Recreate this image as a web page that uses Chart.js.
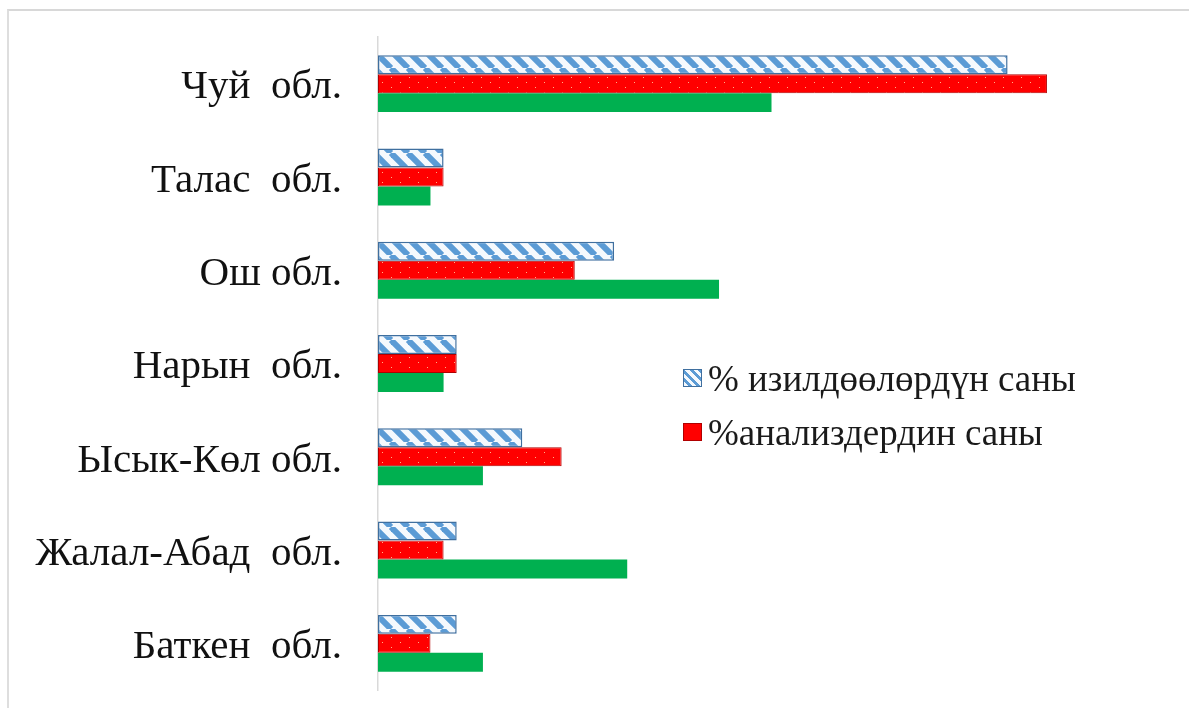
<!DOCTYPE html>
<html lang="ky">
  <head>
    <meta charset="UTF-8" />
    <title>Облустар боюнча</title>
    <script src="https://cdn.jsdelivr.net/npm/chart.js"></script>
    <style>
      * {
        margin: 0;
        padding: 0;
        box-sizing: border-box;
      }

      body {
        width: 1189px;
        height: 708px;
        overflow: hidden;
        background: #ffffff;
        position: relative;
      }

      /* light frame of the original picture, cut off at right and bottom */
      .frame {
        position: absolute;
        left: 7px;
        top: 9px;
        width: 1300px;
        height: 800px;
        border-left: 2px solid #dedede;
        border-top: 2px solid #d8d8d8;
      }

      .chart-box {
        position: absolute;
        left: 0;
        top: 0;
        width: 1189px;
        height: 708px;
      }

      .legend {
        position: absolute;
        left: 683px;
        top: 351px;
        font-family: "Liberation Serif", "Times New Roman", serif;
        font-size: 37px;
        color: #1a1a1a;
      }

      .legend-row {
        display: flex;
        align-items: center;
        height: 54px;
        white-space: pre;
      }

      .swatch {
        width: 19px;
        height: 18px;
        margin-right: 6px;
        flex: none;
      }
    </style>
  </head>
  <body>
    <div class="frame"></div>
    <div class="chart-box">
      <canvas id="regionChart"></canvas>
    </div>
    <div class="legend" id="legend"></div>

    <script>
      // categories, top to bottom
      var regions = [
        "Чуй  обл.",
        "Талас  обл.",
        "Ош обл.",
        "Нарын  обл.",
        "Ысык-Көл обл.",
        "Жалал-Абад  обл.",
        "Баткен  обл.",
      ];

      // % of studies, % of analyses, third (unlabelled) series
      var researchPct = [48, 5, 18, 6, 11, 6, 6];
      var analysisPct = [51, 5, 15, 6, 14, 5, 4];
      var otherPct = [30, 4, 26, 5, 8, 19, 8];

      var seriesLabels = ["% изилдөөлөрдүн саны", "%анализдердин саны", ""];

      // diagonal hatch: white with blue "\" stripes
      function hatchPattern() {
        var c = document.createElement("canvas");
        c.width = 17;
        c.height = 17;
        var g = c.getContext("2d");
        g.fillStyle = "#f5f9fd";
        g.fillRect(0, 0, 17, 17);
        g.strokeStyle = "#5b9bd5";
        g.lineWidth = 6;
        [-17, 0, 17].forEach(function (k) {
          g.beginPath();
          g.moveTo(k, 0);
          g.lineTo(k + 17, 17);
          g.stroke();
        });
        return g.createPattern(c, "repeat");
      }

      // red with tiny pale dots
      function dotPattern() {
        var c = document.createElement("canvas");
        c.width = 18;
        c.height = 10;
        var g = c.getContext("2d");
        g.fillStyle = "#ff0000";
        g.fillRect(0, 0, 18, 10);
        g.fillStyle = "#ffb08a";
        g.fillRect(4, 2, 1, 1);
        g.fillRect(13, 7, 1, 1);
        return g.createPattern(c, "repeat");
      }

      var ctx = document.getElementById("regionChart").getContext("2d");
      new Chart(ctx, {
        type: "bar",
        data: {
          labels: regions,
          datasets: [
            {
              label: seriesLabels[0],
              data: researchPct,
              backgroundColor: hatchPattern(),
              borderColor: "#3f6f9f",
              borderWidth: 1.5,
              borderSkipped: false,
            },
            {
              label: seriesLabels[1],
              data: analysisPct,
              backgroundColor: dotPattern(),
              borderColor: "#b00000",
              borderWidth: 1,
              borderSkipped: false,
            },
            {
              label: seriesLabels[2],
              data: otherPct,
              backgroundColor: "#00b050",
              borderWidth: 0,
            },
          ],
        },
        options: {
          indexAxis: "y",
          responsive: true,
          maintainAspectRatio: false,
          animation: false,
          layout: {
            padding: { left: 0, right: 24, top: 37, bottom: 18 },
          },
          datasets: {
            bar: {
              barPercentage: 1.0,
              categoryPercentage: 0.61,
            },
          },
          scales: {
            x: {
              display: false,
              min: 0,
              max: 60,
            },
            y: {
              afterFit: function (scale) {
                scale.width = 378;
                scale.paddingTop = 0;
                scale.paddingBottom = 0;
              },
              grid: { display: false, drawTicks: false },
              border: { display: true, color: "#d9d9d9", width: 1.5 },
              ticks: {
                padding: 36,
                labelOffset: 4,
                color: "#111111",
                font: {
                  family: "'Liberation Serif', 'Times New Roman', serif",
                  size: 41,
                },
              },
            },
          },
          plugins: {
            legend: { display: false },
            tooltip: { enabled: false },
          },
        },
      });

      // legend drawn inside the plot, only for the two labelled series
      var legend = document.getElementById("legend");
      var swatchCss = [
        "border:1.5px solid #3f6f9f;background:repeating-linear-gradient(45deg,#f5f9fd 0 3px,#5b9bd5 3px 6px);",
        "border:1px solid #b00000;background:#ff0000;",
      ];
      seriesLabels.forEach(function (label, i) {
        if (!label) return;
        var row = document.createElement("div");
        row.className = "legend-row";
        var sw = document.createElement("span");
        sw.className = "swatch";
        sw.style.cssText = swatchCss[i];
        var txt = document.createElement("span");
        txt.textContent = label;
        row.appendChild(sw);
        row.appendChild(txt);
        legend.appendChild(row);
      });
    </script>
  </body>
</html>
